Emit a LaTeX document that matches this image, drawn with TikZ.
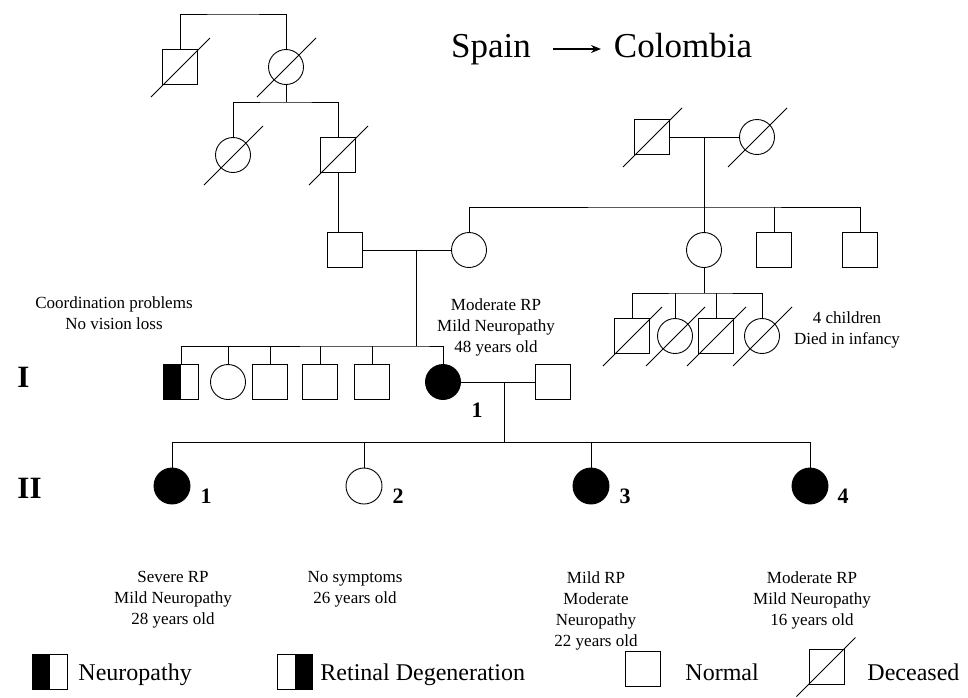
\documentclass[tikz,border=0pt]{standalone}
\usepackage{fontspec}
\setmainfont{Liberation Serif}
\usetikzlibrary{calc,arrows.meta}
\begin{document}
\begin{tikzpicture}[x=1pt,y=-1pt,line width=0.9pt,
  sq/.style={draw,rectangle,minimum size=35pt,inner sep=0pt},
  ci/.style={draw,circle,minimum size=35pt,inner sep=0pt},
  ci2/.style={draw,circle,minimum size=36pt,inner sep=0pt},
  aff/.style={fill=black},
  halfL/.style={path picture={\fill[black] (path picture bounding box.north west) rectangle (path picture bounding box.south);}},
  halfR/.style={path picture={\fill[black] (path picture bounding box.north) rectangle (path picture bounding box.south east);}},
  small/.style={font=\fontsize{17}{21}\selectfont,align=center,inner sep=0pt},
  num/.style={font=\fontsize{22}{24}\selectfont\bfseries,inner sep=0pt,anchor=base},
  gen/.style={font=\fontsize{31}{33}\selectfont\bfseries,inner sep=0pt,anchor=base west},
  leg/.style={font=\fontsize{24}{26}\selectfont,inner sep=0pt,anchor=base west},
  big/.style={font=\fontsize{35}{38}\selectfont,inner sep=0pt,anchor=base}]
\useasboundingbox (0,0) rectangle (968,697);

% nodes
\node[sq] (A) at (180,67) {};
\node[ci] (B) at (286,67) {};
\node[ci] (C) at (233,155) {};
\node[sq] (D) at (338,155) {};
\node[sq] (E) at (345,250) {};
\node[ci] (F) at (469,250) {};
\node[sq,halfL] (G) at (181,382) {};
\node[ci] (H) at (228,382) {};
\node[sq] (I1) at (270,382) {};
\node[sq] (I2) at (320,382) {};
\node[sq] (I3) at (372,382) {};
\node[ci,aff] (J) at (443,382) {};
\node[sq] (K) at (553,382) {};
\node[sq] (L) at (652,137) {};
\node[ci] (M) at (757,137) {};
\node[ci] (N) at (704,250) {};
\node[sq] (O) at (774,250) {};
\node[sq] (P) at (860,250) {};
\node[sq] (Q) at (632,336) {};
\node[ci] (R) at (675,336) {};
\node[sq] (S) at (716,336) {};
\node[ci] (T) at (762,336) {};
\node[ci2,aff] (U1) at (172,486) {};
\node[ci2] (U2) at (364,486) {};
\node[ci2,aff] (U3) at (591,486) {};
\node[ci2,aff] (U4) at (810,486) {};

% deceased slashes
\foreach \n in {A,B,C,D,L,M,Q,R,S,T}
  \draw ($(\n)+(-29,30)$) -- ($(\n)+(30,-29)$);

% connector coordinates
\coordinate (t1) at (233,14);
\coordinate (s1) at (286,102);
\coordinate (m1) at (416,250);
\coordinate (s2) at (416,346);
\coordinate (m2) at (704,137);
\coordinate (s3) at (704,207);
\coordinate (s4) at (704,293);
\coordinate (m3) at (504,382);
\coordinate (s5) at (504,442);

% connectors
\draw (A.north) |- (t1) -| (B.north);
\draw (B.south) -- (s1);
\draw (C.north) |- (s1) -| (D.north);
\draw (D.south) -- (D.south |- E.north);
\draw (E.east) -- (F.west);
\draw (m1) -- (s2);
\draw (G.north) |- (s2) -| (J.north);
\foreach \n in {H,I1,I2,I3} \draw (\n.north) -- (\n.north |- s2);
\draw (L.east) -- (M.west);
\draw (m2) -- (s3);
\draw (F.north) |- (s3) -| (P.north);
\foreach \n in {N,O} \draw (\n.north) -- (\n.north |- s3);
\draw (N.south) -- (s4);
\draw (Q.north) |- (s4) -| (T.north);
\foreach \n in {R,S} \draw (\n.north) -- (\n.north |- s4);
\draw (J.east) -- (K.west);
\draw (m3) -- (s5);
\draw (U1.north) |- (s5) -| (U4.north);
\foreach \n in {U2,U3} \draw (\n.north) -- (\n.north |- s5);

% title
\node[big] (spain) at (491,57) {Spain};
\node[big] (col) at (683,57) {Colombia};
\coordinate (ar1) at (553,49);
\coordinate (ar2) at (601,49);
\draw[line width=1.8pt,-{Stealth[length=10pt,width=8pt]}] (ar1) -- (ar2);

% generation labels
\node[gen] (g1) at (17,387) {I};
\node[gen] (g2) at (17,498) {II};

% numbers
\node[num] (n0) at (477,417) {1};
\node[num] (n1) at (206,503) {1};
\node[num] (n2) at (398,503) {2};
\node[num] (n3) at (625,503) {3};
\node[num] (n4) at (843,503) {4};

% annotations
\node[small] (tx1) at (114,313) {Coordination problems\\No vision loss};
\node[small] (tx2) at (496,327) {Moderate RP\\Mild Neuropathy\\48 years old};
\node[small] (tx3) at (847,330) {4 children\\Died in infancy};
\node[small,anchor=north] (tu1) at (173,571) {Severe RP\\Mild Neuropathy\\28 years old};
\node[small,anchor=north] (tu2) at (355,571) {No symptoms\\26 years old};
\node[small,anchor=north] (tu3) at (596,571) {Mild RP\\Moderate\\Neuropathy\\22 years old};
\node[small,anchor=north] (tu4) at (812,571) {Moderate RP\\Mild Neuropathy\\16 years old};

% legend
\node[sq,halfL] (LG1) at (49.5,672) {};
\node[leg] (lt1) at (78,680) {Neuropathy};
\node[sq,halfR] (LG2) at (294.5,672) {};
\node[leg] (lt2) at (320,680) {Retinal Degeneration};
\node[sq] (LG3) at (643,668.5) {};
\node[leg] (lt3) at (685,680) {Normal};
\node[sq] (LG4) at (826.5,666.5) {};
\draw ($(LG4)+(-30,30)$) -- ($(LG4)+(29,-29)$);
\node[leg] (lt4) at (867,680) {Deceased};
\end{tikzpicture}
\end{document}
